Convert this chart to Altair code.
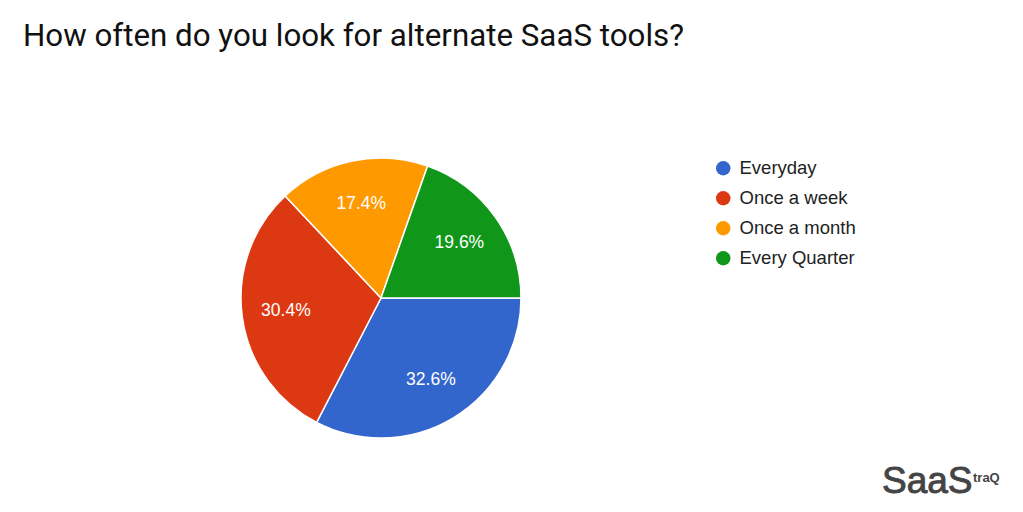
import math
import altair as alt
import pandas as pd

categories = ["Everyday", "Once a week", "Once a month", "Every Quarter"]
values = [32.6, 30.4, 17.4, 19.6]
colors = ["#3366cc", "#dc3912", "#ff9900", "#109618"]
title_text = "How often do you look for alternate SaaS tools?"

df = pd.DataFrame({
    "category": categories,
    "value": values,
    "order": list(range(len(categories))),
    "label": [f"{v:.1f}%" for v in values],
})

theta_scale = alt.Scale(range=[math.pi / 2, math.pi / 2 + 2 * math.pi])
cx, cy = 373, 290

base = alt.Chart(df).encode(
    theta=alt.Theta("value:Q", stack=True, scale=theta_scale),
    order=alt.Order("order:Q"),
)

pie = base.mark_arc(outerRadius=140, stroke="white", strokeWidth=1.5).encode(
    x=alt.value(cx), y=alt.value(cy),
    color=alt.Color(
        "category:N",
        scale=alt.Scale(domain=categories, range=colors),
        sort=categories,
        legend=alt.Legend(
            title=None, orient="none", legendX=706, legendY=151,
            symbolType="circle", symbolSize=210, symbolStrokeWidth=0,
            labelFont="Liberation Sans", labelFontSize=18.5, labelColor="#222222",
            labelOffset=7, rowPadding=11,
        ),
    ),
)

labels = base.mark_text(radius=96, font="Liberation Sans", fontSize=17.5,
                        color="white").encode(
    x=alt.value(cx), y=alt.value(cy), text="label:N")

title = alt.Chart(pd.DataFrame({"t": [title_text]})).mark_text(
    font="Roboto", fontSize=31.3, color="#111111", align="left", baseline="alphabetic"
).encode(x=alt.value(15), y=alt.value(38), text="t:N")

logo1 = alt.Chart(pd.DataFrame({"t": ["SaaS"]})).mark_text(
    font="Liberation Sans", fontSize=37, color="#444444",
    stroke="#444444", strokeWidth=0.9,
    align="left", baseline="alphabetic"
).encode(x=alt.value(874), y=alt.value(485), text="t:N")

logo2 = alt.Chart(pd.DataFrame({"t": ["traQ"]})).mark_text(
    font="Liberation Sans", fontSize=13, fontWeight="bold", color="#444444",
    align="left", baseline="alphabetic"
).encode(x=alt.value(965), y=alt.value(474), text="t:N")

chart = alt.layer(pie, labels, title, logo1, logo2).properties(
    width=1007, height=496, padding=0,
    autosize=alt.AutoSizeParams(type="none"),
).configure_view(stroke=None)

chart.save("out.html", embed_options={"renderer": "svg", "actions": False})
